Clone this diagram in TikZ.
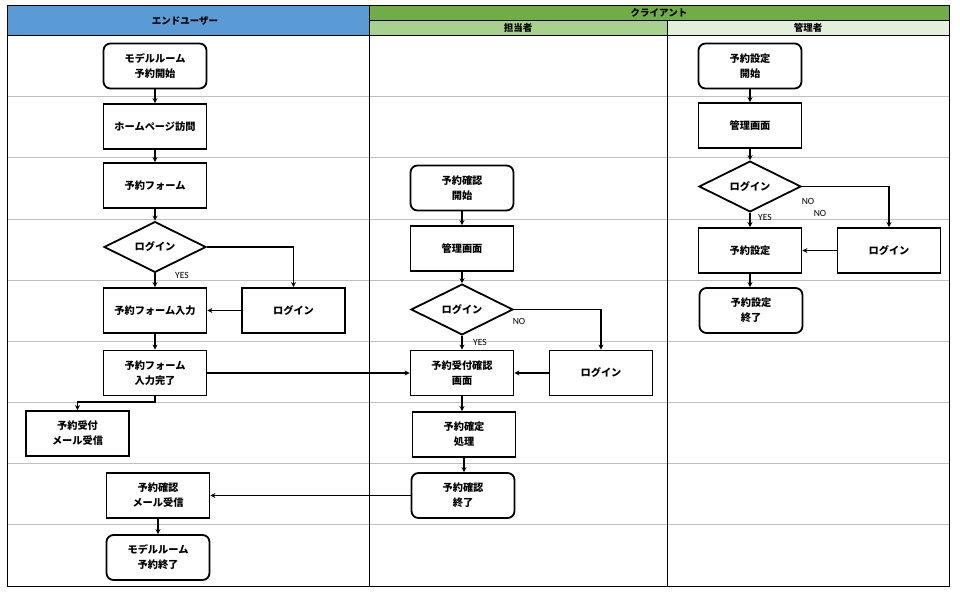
\documentclass[tikz,border=0pt]{standalone}
\usepackage{fontspec}
\setmainfont{Noto Sans CJK JP}
\newfontfamily\latinlab{Carlito}
\usetikzlibrary{shapes.geometric,arrows.meta}
\definecolor{hdrblue}{HTML}{5B9BD5}
\definecolor{hdrgreen}{HTML}{70AD47}
\definecolor{hdrlgreen}{HTML}{A9D18E}
\definecolor{hdrpale}{HTML}{E2EFDA}
\tikzset{
  box/.style={draw=black,line width=1.8pt,fill=white,minimum width=103pt,minimum height=45pt,inner sep=1pt,align=center,font=\fontsize{10.2}{15}\selectfont\bfseries},
  term/.style={box,rounded corners=7pt},
  dec/.style={draw=black,line width=1.8pt,fill=white,diamond,minimum width=102pt,minimum height=44pt,inner sep=0pt,font=\fontsize{10.2}{15}\selectfont\bfseries},
  flow/.style={draw=black,line width=1.4pt,-{Stealth[length=5pt,width=5pt]}},
  lab/.style={font=\latinlab\fontsize{9.5}{10}\selectfont,inner sep=0pt},
  hdr/.style={font=\fontsize{9.5}{11}\selectfont\bfseries,inner sep=0pt},
  rowline/.style={draw=gray!50,line width=0.9pt},
}
\begin{document}
\begin{tikzpicture}[x=1pt,y=-1pt]
\useasboundingbox (0,0) rectangle (960,596);
% header
\fill[hdrblue] (7,6) rectangle (369,35);
\fill[hdrgreen] (369,6) rectangle (949,20);
\fill[hdrlgreen] (369,20) rectangle (667,35);
\fill[hdrpale] (667,20) rectangle (949,35);
\draw[black,line width=0.8pt] (7,35) -- (949,35) (369,20) -- (949,20);
\node[hdr] (hEnd) at (185,21) {エンドユーザー};
\node[hdr] (hCl) at (659,13) {クライアント};
\node[hdr] (hTan) at (518,28) {担当者};
\node[hdr] (hKan) at (808,28) {管理者};
% row lines
\foreach \yy in {96,157,219,280,341,402,463,524}
  \draw[rowline] (7,\yy) -- (949,\yy);
% columns and frame
\draw[black,line width=0.9pt] (369,6) -- (369,586) (667,20) -- (667,586);
\draw[black,line width=1pt] (7,6) rectangle (949,586);

% left column
\node[term] (s1) at (155,66) {モデルルーム\\予約開始};
\node[box] (hp) at (155,126.5) {ホームページ訪問};
\node[box] (form) at (155,185.5) {予約フォーム};
\node[dec] (d1) at (155,247) {ログイン};
\node[box] (inp) at (155,310.5) {予約フォーム入力};
\node[box] (lg1) at (293.5,310.5) {ログイン};
\node[box] (done) at (155,373) {予約フォーム\\入力完了};
\node[box] (mail1) at (77.5,433.5) {予約受付\\メール受信};
\node[box] (mail2) at (158,495.5) {予約確認\\メール受信};
\node[term] (e1) at (158,557.5) {モデルルーム\\予約終了};

% middle column
\node[term] (s2) at (462,188) {予約確認\\開始};
\node[box] (kan2) at (462,248.5) {管理画面};
\node[dec] (d2) at (462,309.5) {ログイン};
\node[box] (scr) at (462,373) {予約受付確認\\画面};
\node[box] (lg2) at (601,373) {ログイン};
\node[box] (fix) at (464,434.5) {予約確定\\処理};
\node[term] (e2) at (463,495.5) {予約確認\\終了};

% right column
\node[term] (s3) at (750,66) {予約設定\\開始};
\node[box] (kan3) at (750,125.5) {管理画面};
\node[dec] (d3) at (750,186.5) {ログイン};
\node[box] (set) at (750,250.5) {予約設定};
\node[box] (lg3) at (889,250.5) {ログイン};
\node[term] (e3) at (751,310.5) {予約設定\\終了};

% connectors left
\draw[flow] (s1) -- (hp);
\draw[flow] (hp) -- (form);
\draw[flow] (form) -- (d1);
\draw[flow] (d1) -- (inp);
\draw[flow] (d1.east) -| (lg1.north);
\draw[flow] (lg1) -- (inp);
\draw[flow] (inp) -- (done);
\coordinate (bend1) at (155,402);
\draw[flow] (done.south) -- (bend1) -| (mail1.north);
\draw[flow] (done) -- (scr);
\draw[flow] (e2) -- (mail2);
\draw[flow] (mail2) -- (e1);
\node[lab] (yes1) at (182,275) {YES};

% connectors middle
\draw[flow] (s2) -- (kan2);
\draw[flow] (kan2) -- (d2);
\draw[flow] (d2) -- (scr);
\draw[flow] (d2.east) -| (lg2.north);
\draw[flow] (lg2) -- (scr);
\draw[flow] (scr.south) -- (scr.south |- fix.north);
\draw[flow] (fix.south) -- (fix.south |- e2.north);
\node[lab] (no2) at (519,321) {NO};
\node[lab] (yes2) at (480,342) {YES};

% connectors right
\draw[flow] (s3) -- (kan3);
\draw[flow] (kan3) -- (d3);
\draw[flow] (d3) -- (set);
\draw[flow] (d3.east) -| (lg3.north);
\draw[flow] (lg3) -- (set);
\draw[flow] (set.south) -- (set.south |- e3.north);
\node[lab] (no3a) at (808,201) {NO};
\node[lab] (no3b) at (820,213) {NO};
\node[lab] (yes3) at (765,217) {YES};
\end{tikzpicture}
\end{document}
